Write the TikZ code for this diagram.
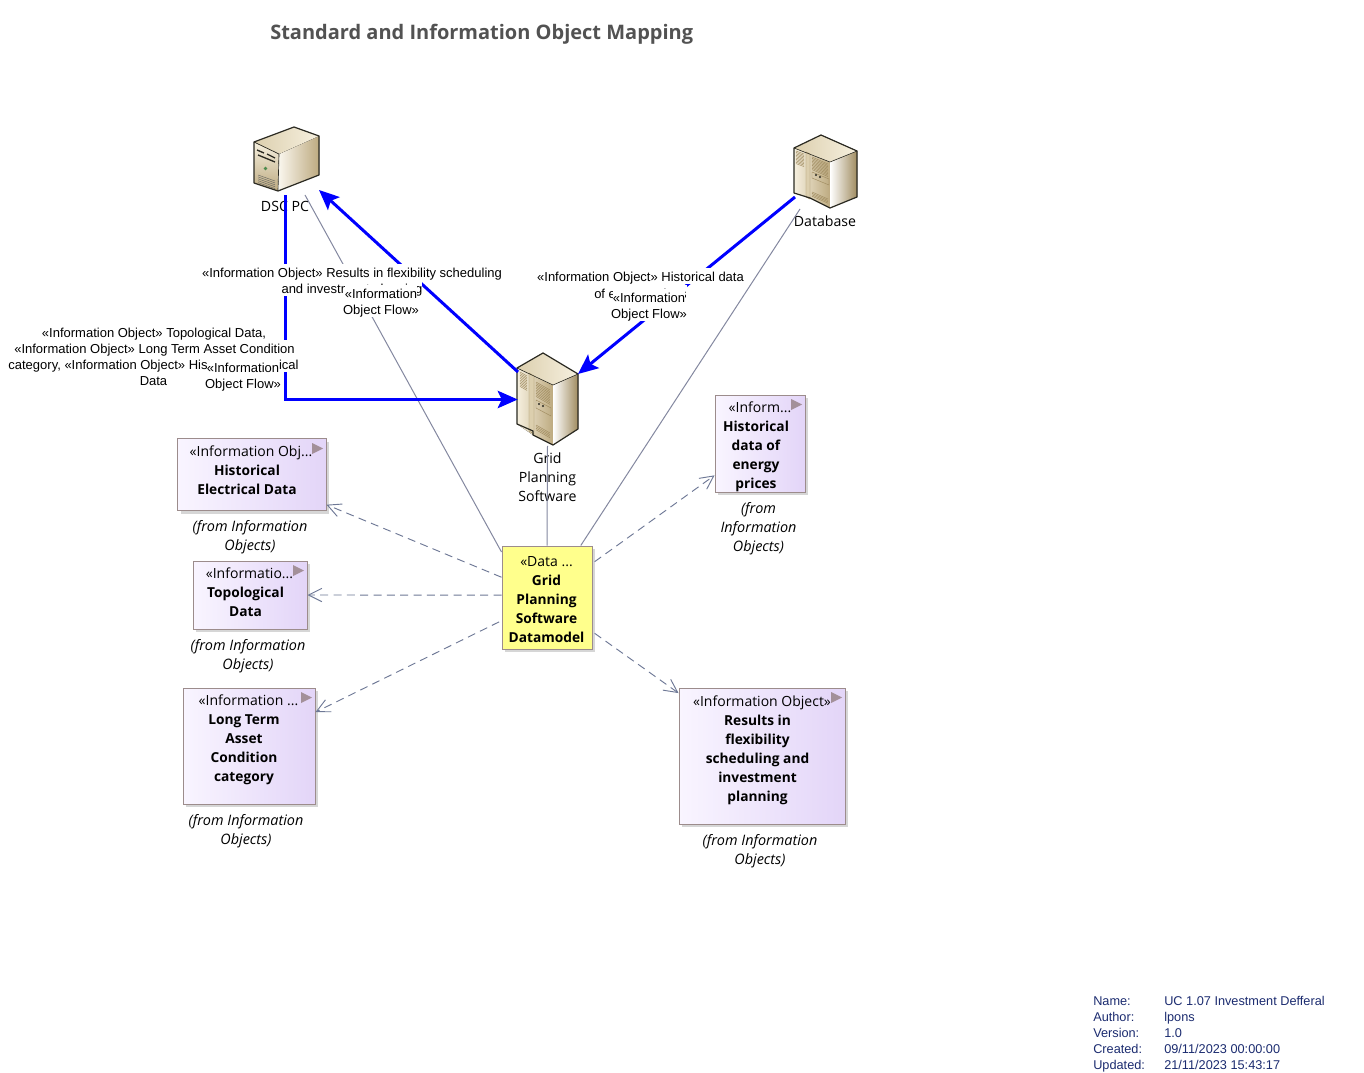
\documentclass[tikz,border=0pt]{standalone}
\usepackage{fontspec}
\setmainfont{Open Sans}
\newfontfamily\arialf{Liberation Sans}
\usetikzlibrary{arrows.meta,shapes.geometric}
\definecolor{flowblue}{HTML}{0000FF}
\definecolor{tracegray}{HTML}{8488A0}
\definecolor{depgray}{HTML}{6E7896}
\definecolor{boxedge}{HTML}{9C8C8C}
\definecolor{boxleft}{HTML}{F9F5FF}
\definecolor{boxright}{HTML}{E3D5F8}
\definecolor{dmyellow}{HTML}{FFFF8C}
\definecolor{triang}{HTML}{A39099}
\definecolor{metaink}{HTML}{1C2C70}
\definecolor{iconedge}{HTML}{2B2A22}
\definecolor{tanA}{HTML}{F6F0DF}
\definecolor{tanB}{HTML}{BDAA80}
\definecolor{tanC}{HTML}{A08C60}
\definecolor{tanD}{HTML}{DCCFAE}
\tikzset{
 x=0.75pt,y=-0.75pt,
 infobox/.style={draw=boxedge,line width=0.75pt,left color=boxleft,right color=boxright,inner sep=0pt},
 databox/.style={draw=boxedge,line width=0.75pt,fill=dmyellow,inner sep=0pt},
 shadowbox/.style={fill=black!16,draw=none},
 stereo/.style={font=\fontsize{10.5pt}{14.25pt}\selectfont,inner sep=0pt,align=center,text height=8pt,text depth=3pt,yshift=-1.85pt},
 objname/.style={font=\fontsize{10.3pt}{14.25pt}\selectfont\bfseries,inner sep=0pt,align=center,text height=8pt,text depth=3pt,yshift=-1.85pt},
 fromtext/.style={font=\fontsize{10.8pt}{14.25pt}\selectfont\itshape,inner sep=0pt,align=center,text height=8pt,text depth=3pt,yshift=-1.85pt},
 iconlabel/.style={font=\fontsize{10.6pt}{14.25pt}\selectfont,inner sep=0pt,align=center,text height=8pt,text depth=3pt,yshift=-1.85pt},
 iconanchor/.style={inner sep=0pt,draw=none,fill=none},
 flowline/.style={flowblue,line width=2.25pt,-{Stealth[length=15pt,width=13pt,inset=3pt]}},
 traceline/.style={tracegray,line width=0.75pt},
 depline/.style={depgray,line width=0.7pt,dash pattern=on 6pt off 4pt,-{Straight Barb[length=10pt,width=10pt]}},
 flowtext/.style={font=\arialf\fontsize{9.75pt}{12pt}\selectfont,fill=white,inner xsep=0pt,inner ysep=0pt,text height=8.6pt,text depth=1pt,minimum height=12pt},
 metatext/.style={font=\arialf\fontsize{9.55pt}{12pt}\selectfont,text=metaink,inner sep=0pt,anchor=west,text height=7.4pt,text depth=2.2pt,yshift=-1.1pt},
 tri/.style={fill=triang,draw=none},
 iconout/.style={draw=iconedge,line width=0.9pt,line join=round},
 iconthin/.style={draw=tanC,line width=0.35pt},
}
\begin{document}
\begin{tikzpicture}
\useasboundingbox[fill=white] (0,0) rectangle (1364,1073);

% title
\node[font=\fontsize{15pt}{20pt}\selectfont\bfseries,text=black!68,inner sep=0pt,anchor=west] (title) at (270,34) {Standard and Information Object Mapping};

% invisible anchors of the three icons
\node[iconanchor,minimum width=51pt,minimum height=48pt] (dsc) at (285.5,159) {};
\node[iconanchor,minimum width=44.25pt,minimum height=69pt] (grid) at (547.5,399.5) {};
\node[iconanchor,minimum width=47.25pt,minimum height=54.75pt] (dbase) at (825.5,171.5) {};
\coordinate (gridNW) at (518,372);
\coordinate (gridNE) at (578,374);
\coordinate (dscSE) at (319,190);
\coordinate (dbaseSW) at (795,197);

% DSC PC icon
\fill[top color=tanA,bottom color=tanB] (254,142) -- (279,154) -- (278,191) -- (254,183) -- cycle;
\fill[left color=tanA!50!white,right color=tanB] (279,154) -- (319,136) -- (319,175) -- (278,191) -- cycle;
\fill[left color=tanD,right color=tanA] (254,142) -- (294,127) -- (319,136) -- (279,154) -- cycle;
\draw[iconout] (254,142) -- (294,127) -- (319,136) -- (319,175) -- (278,191) -- (254,183) -- cycle;
\draw[draw=iconedge,line width=0.5pt] (254,142) -- (279,154) -- (278,191);
\draw[line width=1pt,iconedge] (257,150) -- (264,153) (267,154) -- (275,158) (258,155) -- (275,162);
\fill[green!35!black!70] (265.5,168.5) circle (1.8);
\foreach \k in {0,1,2,3,4}{\draw[iconedge!70,line width=0.35pt] (258,{175+\k*1.9}) -- (275,{181+\k*1.9});}

% Grid Planning Software icon
\fill[left color=tanA,right color=tanB] (517,368) -- (553,385) -- (553,445) -- (533,435) -- (517,424) -- cycle;
\fill[left color=white,right color=tanC] (553,385) -- (578,374) -- (578,429) -- (553,445) -- cycle;
\fill[left color=tanD,right color=tanA] (517,368) -- (543,353) -- (578,374) -- (553,385) -- cycle;
\draw[iconthin,fill=tanD] (529,373) -- (534,376) -- (534,434) -- (529,431) -- cycle;
\foreach \k in {0,...,9}{\draw[iconthin] (520,{372+\k*1.6}) -- (527,{376+\k*1.6});}
\foreach \k in {0,...,9}{\draw[iconthin] (536,{382+\k*1.6}) -- (550,{390+\k*1.6});}
\draw[iconthin] (536,400) -- (551,408) -- (551,416) -- (536,408) -- cycle;
\fill[iconedge] (539,404) circle (1.1) (543,406) circle (1.1);
\foreach \k in {0,...,3}{\draw[iconthin] (536,{425+\k*1.6}) -- (550,{433+\k*1.6});}
\draw[iconout] (517,368) -- (543,353) -- (578,374) -- (578,429) -- (553,445) -- (533,435) -- (533,431) -- (517,424) -- cycle;
\draw[draw=iconedge,line width=0.4pt] (517,368) -- (553,385) -- (578,374);

% Database icon
\fill[left color=tanA,right color=tanB] (794,148) -- (830,162) -- (830,208) -- (810,198) -- (794,193) -- cycle;
\fill[left color=white,right color=tanC] (830,162) -- (857,151) -- (857,197) -- (830,208) -- cycle;
\fill[left color=tanD,right color=tanA] (794,148) -- (821,135) -- (857,151) -- (830,162) -- cycle;
\draw[iconthin,fill=tanD] (806,152) -- (810,154) -- (810,199) -- (806,197) -- cycle;
\foreach \k in {0,...,9}{\draw[iconthin] (796,{151+\k*1.4}) -- (804,{154+\k*1.4});}
\foreach \k in {0,...,9}{\draw[iconthin] (812,{157+\k*1.4}) -- (828,{164+\k*1.4});}
\draw[iconthin] (812,172) -- (829,179) -- (829,185) -- (812,178) -- cycle;
\fill[iconedge] (816,175) circle (1.1) (820,177) circle (1.1);
\foreach \k in {0,...,3}{\draw[iconthin] (812,{192+\k*1.4}) -- (828,{199+\k*1.4});}
\draw[iconout] (794,148) -- (821,135) -- (857,151) -- (857,197) -- (830,208) -- (810,198) -- (794,193) -- cycle;
\draw[draw=iconedge,line width=0.4pt] (794,148) -- (830,162) -- (857,151);

% icon names (the y given is that of the last line)
\node[iconlabel] (dscT) at (285,206) {DSC PC};
\node[iconlabel] (gridT) at (547.5,496) {Grid\\Planning\\Software};
\node[iconlabel] (dbaseT) at (825,221) {Database};

% shadows
\fill[shadowbox] (180.5,441.5) rectangle (329,513.5);
\fill[shadowbox] (196,564) rectangle (310,632);
\fill[shadowbox] (186,691) rectangle (318,807);
\fill[shadowbox] (718,398) rectangle (808,495);
\fill[shadowbox] (682,691) rectangle (848,827);
\fill[shadowbox] (505,549) rectangle (595,652);

% boxes
\node[infobox,minimum width=111.4pt,minimum height=54pt] (he) at (251.75,474.5) {};
\node[infobox,minimum width=85.5pt,minimum height=51pt] (td) at (250,595) {};
\node[infobox,minimum width=99pt,minimum height=87pt] (lt) at (249,746) {};
\node[infobox,minimum width=67.5pt,minimum height=72.75pt] (hd) at (760,443.5) {};
\node[infobox,minimum width=124.5pt,minimum height=102pt] (rf) at (762,756) {};
\node[databox,minimum width=67.5pt,minimum height=77.25pt] (dm) at (547,597.5) {};

% corner triangles
\fill[tri] (312,443) -- (323,448.5) -- (312,454) -- cycle;
\fill[tri] (293,565) -- (304,570.5) -- (293,576) -- cycle;
\fill[tri] (301,692) -- (312,697.5) -- (301,703) -- cycle;
\fill[tri] (791,399) -- (802,404.5) -- (791,410) -- cycle;
\fill[tri] (831,692) -- (842,697.5) -- (831,703) -- cycle;

% box texts (the y given is that of the last line)
\node[stereo] (heS) at (251,451) {«Information Obj...};
\node[objname] (heN) at (247,489) {Historical\\Electrical Data};
\node[fromtext] (heF) at (250,545) {(from Information\\Objects)};
\node[stereo] (tdS) at (249.5,573) {«Informatio...};
\node[objname] (tdN) at (245.5,611) {Topological\\Data};
\node[fromtext] (tdF) at (248,664) {(from Information\\Objects)};
\node[stereo] (ltS) at (248.5,700) {«Information ...};
\node[objname] (ltN) at (244,776) {Long Term\\Asset\\Condition\\category};
\node[fromtext] (ltF) at (246,839) {(from Information\\Objects)};
\node[stereo] (hdS) at (760,407) {«Inform...};
\node[objname] (hdN) at (756,483) {Historical\\data of\\energy\\prices};
\node[fromtext] (hdF) at (758.5,546) {(from\\Information\\Objects)};
\node[stereo] (rfS) at (762,701) {«Information Object»};
\node[objname] (rfN) at (757.5,796) {Results in\\flexibility\\scheduling and\\investment\\planning};
\node[fromtext] (rfF) at (760,859) {(from Information\\Objects)};
\node[stereo] (dmS) at (546.5,561) {«Data ...};
\node[objname] (dmN) at (546.5,637) {Grid\\Planning\\Software\\Datamodel};

% connectors
\draw[traceline] (dm.135) -- (305,195) coordinate (dscTrace);
\draw[traceline] (dm.north) -- (grid.south);
\draw[traceline] (dm.57.4) -- (800,209) coordinate (dbaseTrace);
\draw[depline] (dm.156) -- (he.-22.3);
\draw[depline] (dm.177.5) -- (td.east);
\draw[depline,shorten <=2pt] (dm.207.1) -- (lt.27.3);
\draw[depline,shorten <=2pt] (dm.37.9) -- (hd.215.8);
\draw[depline,shorten <=2pt] (dm.-37.1) -- (rf.143.2);
\draw[flowline,shorten <=3pt] (dsc.south) |- (grid.west);
\draw[flowline] (gridNW) -- (dscSE);
\draw[flowline] (dbaseSW) -- (gridNE);

% flow labels, each printed line on its own white strip
\node[flowtext] (resA) at (352,272) {«Information Object» Results in flexibility scheduling};
\node[flowtext] (resB) at (352,288) {and investment planning};
\node[flowtext] (resC) at (381,293) {«Information};
\node[flowtext] (resD) at (381,309) {Object Flow»};
\node[flowtext] (topA) at (154,332) {«Information Object» Topological Data,};
\node[flowtext] (topB) at (154.5,348) {«Information Object» Long Term Asset Condition};
\node[flowtext] (topC) at (153.5,364) {category, «Information Object» Historical Electrical};
\node[flowtext] (topD) at (153.5,380) {Data};
\node[flowtext] (topE) at (243,367) {«Information};
\node[flowtext] (topF) at (243,383) {Object Flow»};
\node[flowtext] (hisA) at (640.5,276) {«Information Object» Historical data};
\node[flowtext] (hisB) at (640.5,293) {of energy prices};
\node[flowtext] (hisC) at (649,297) {«Information};
\node[flowtext] (hisD) at (649,313) {Object Flow»};

% diagram notes
\node[metatext] (mA) at (1093,1001) {Name:};
\node[metatext] (mB) at (1093,1017) {Author:};
\node[metatext] (mC) at (1093,1033) {Version:};
\node[metatext] (mD) at (1093,1049) {Created:};
\node[metatext] (mE) at (1093,1065) {Updated:};
\node[metatext] (vA) at (1164,1001) {UC 1.07 Investment Defferal};
\node[metatext] (vB) at (1164,1017) {lpons};
\node[metatext] (vC) at (1164,1033) {1.0};
\node[metatext] (vD) at (1164,1049) {09/11/2023 00:00:00};
\node[metatext] (vE) at (1164,1065) {21/11/2023 15:43:17};
\end{tikzpicture}
\end{document}
